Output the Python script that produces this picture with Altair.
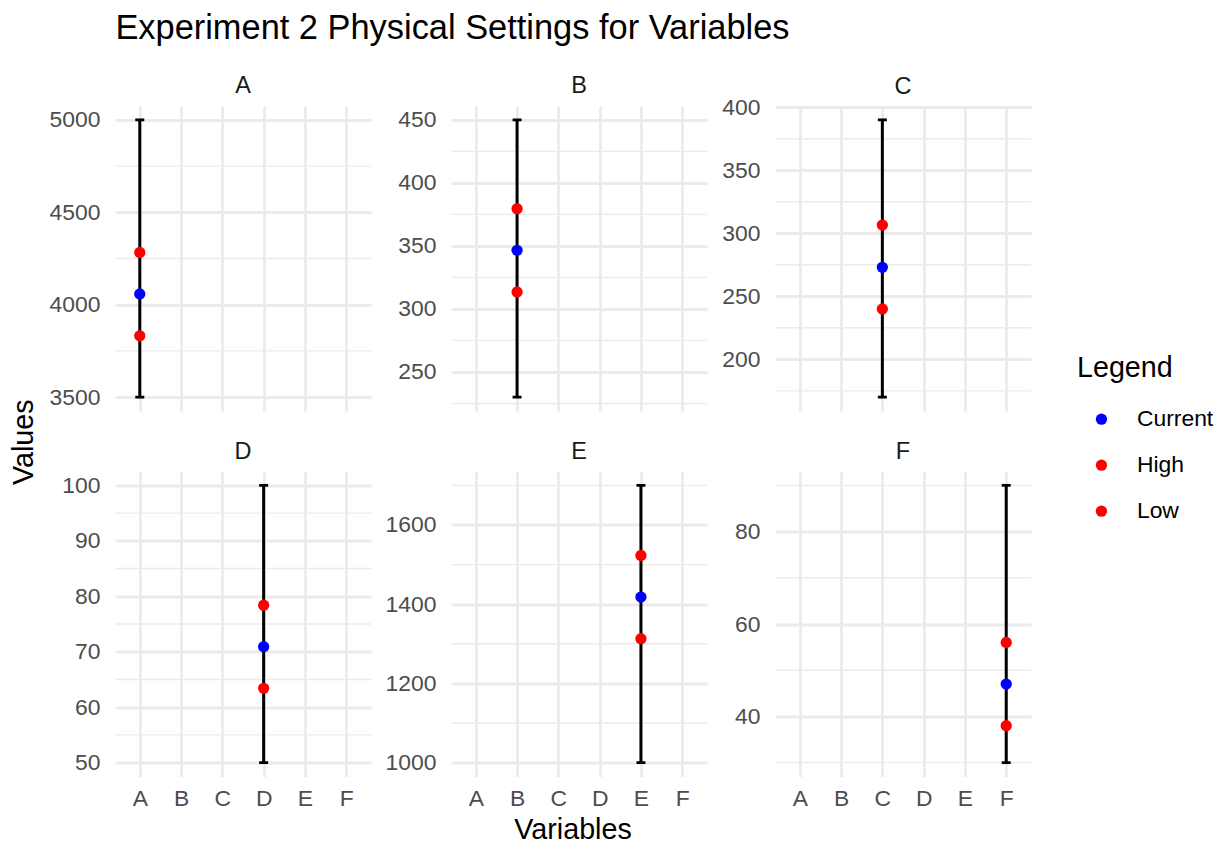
import math
import altair as alt
import pandas as pd

# ---- data ----
variables = ["A", "B", "C", "D", "E", "F"]
current_vals = [4058, 346.5, 273, 70.9, 1418, 47]
high_vals = [4283, 379.5, 306.5, 78.4, 1523, 56]
low_vals = [3832, 313.5, 240, 63.4, 1313, 38]
min_vals = [3500, 230, 170, 50, 1000, 30]
max_vals = [5000, 450, 390, 100, 1700, 90]
major_breaks = [
    [3500, 4000, 4500, 5000],
    [250, 300, 350, 400, 450],
    [200, 250, 300, 350, 400],
    [50, 60, 70, 80, 90, 100],
    [1000, 1200, 1400, 1600],
    [40, 60, 80],
]
minor_breaks = [
    [3750, 4250, 4750],
    [225, 275, 325, 375, 425],
    [175, 225, 275, 325, 375],
    [55, 65, 75, 85, 95],
    [1100, 1300, 1500, 1700],
    [30, 50, 70, 90],
]
settings = ["Current", "High", "Low"]
setting_colors = ["#0000FF", "#FF0000", "#FF0000"]

FONT = "Liberation Sans"
W, H = 256, 305
GRID = "#EBEBEB"
TICK_FS = 22.9

color_scale = alt.Scale(domain=settings, range=setting_colors)
legend = alt.Legend(
    title="Legend", orient="none", legendX=962, legendY=248,
    symbolType="circle", symbolSize=127, symbolStrokeWidth=0, symbolOffset=13,
    titleFontSize=28.7, titleFont=FONT, titleFontWeight="normal", titleColor="black",
    labelFontSize=22.9, labelFont=FONT, labelColor="black",
    rowPadding=22, titlePadding=25, labelOffset=24,
)


def panel(i):
    v = variables[i]
    bottom = i >= 3
    lo, hi = min_vals[i], max_vals[i]
    pad = 0.05 * (hi - lo)
    yscale = alt.Scale(domain=[lo - pad, hi + pad], nice=False, zero=False)
    xscale = alt.Scale(type="point", domain=variables, padding=0.6)
    xaxis = alt.Axis(title=None, labels=bottom, grid=True, ticks=False, tickSize=0,
                     domain=False, labelPadding=11, labelAngle=0)
    yaxis = alt.Axis(title=None, values=major_breaks[i], grid=True, ticks=False,
                     tickSize=0, domain=False, labelPadding=15, format="d")

    # keep strip titles level: a top tick label that pokes above the panel
    # would otherwise push the title up
    top_gap = (hi + pad - max(major_breaks[i])) / (hi - lo + 2 * pad) * H
    overhang = max(0.0, math.ceil(TICK_FS / 2) - top_gap)
    title_offset = 8.5 - overhang

    pts = pd.DataFrame({
        "Variable": [v] * 3,
        "Setting": settings,
        "Value": [current_vals[i], high_vals[i], low_vals[i]],
    })
    rng = pd.DataFrame({"Variable": [v], "Min": [lo], "Max": [hi]})
    minor = pd.DataFrame({"Minor": minor_breaks[i]})

    X = alt.X("Variable:N", scale=xscale, axis=xaxis)

    minor_layer = alt.Chart(minor).mark_rule(color=GRID, strokeWidth=1.4).encode(
        y=alt.Y("Minor:Q", scale=yscale, axis=yaxis)
    )
    bar = alt.Chart(rng).mark_rule(color="black", strokeWidth=3).encode(
        x=X, y=alt.Y("Min:Q", scale=yscale, axis=yaxis), y2="Max:Q"
    )
    cap_lo = alt.Chart(rng).mark_tick(color="black", size=9, thickness=2.8,
                                      orient="horizontal", opacity=1).encode(
        x=X, y=alt.Y("Min:Q", scale=yscale, axis=yaxis)
    )
    cap_hi = alt.Chart(rng).mark_tick(color="black", size=9, thickness=2.8,
                                      orient="horizontal", opacity=1).encode(
        x=X, y=alt.Y("Max:Q", scale=yscale, axis=yaxis)
    )
    points = alt.Chart(pts).mark_circle(size=127, opacity=1).encode(
        x=X,
        y=alt.Y("Value:Q", scale=yscale, axis=yaxis),
        color=alt.Color("Setting:N", scale=color_scale, legend=legend),
    )
    return alt.layer(minor_layer, bar, cap_lo, cap_hi, points).properties(
        width=W, height=H,
        title=alt.TitleParams(v, fontSize=23.5, font=FONT, color="#1A1A1A",
                              fontWeight="normal", offset=title_offset, frame="group"),
    )


panels = [panel(i) for i in range(6)]

inner = alt.concat(
    *panels, columns=3, spacing={"row": 28.5, "column": 13}, align="each",
    title=alt.TitleParams("Values", orient="left", anchor="middle", fontSize=28.7,
                          font=FONT, color="black", fontWeight="normal", offset=10),
)
middle = alt.vconcat(
    inner,
    title=alt.TitleParams("Variables", orient="bottom", anchor="middle", fontSize=28.7,
                          font=FONT, color="black", fontWeight="normal", offset=6, dx=52),
)
chart = alt.vconcat(
    middle,
    title=alt.TitleParams("Experiment 2 Physical Settings for Variables", anchor="start",
                          fontSize=34.4, font=FONT, color="black", fontWeight="normal",
                          offset=28, dx=105),
).properties(
    padding={"left": 10, "top": 10, "right": 5, "bottom": 0},
).configure_view(stroke=None).configure_axis(
    labelFont=FONT, labelFontSize=TICK_FS, labelColor="#4D4D4D",
    gridColor=GRID, gridWidth=2.8,
)

chart.save("out.html", embed_options={"renderer": "svg", "actions": False})
